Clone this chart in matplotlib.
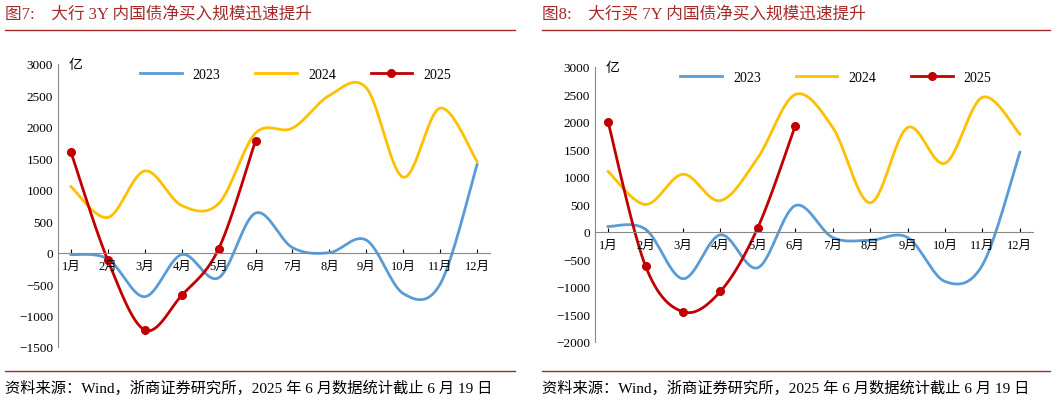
import matplotlib.pyplot as plt
import numpy as np

plt.rcParams["font.family"] = ["Liberation Serif", "Noto Sans CJK SC"]

months = [f"{i}月" for i in range(1, 13)]

# 3Y
y3_2023 = [-30, -100, -700, -30, -400, 630, 80, 0, 200, -650, -500, 1400]
y3_2024 = [1050, 560, 1300, 750, 780, 1900, 1980, 2500, 2620, 1200, 2300, 1450]
y3_2025 = [1600, -120, -1230, -680, 60, 1780]

# 7Y
y7_2023 = [100, 50, -850, -50, -650, 480, -100, -150, -100, -900, -600, 1450]
y7_2024 = [1100, 500, 1050, 570, 1350, 2500, 1900, 530, 1900, 1250, 2450, 1780]
y7_2025 = [2000, -620, -1450, -1080, 80, 1930]

BLUE = "#5B9BD5"
GOLD = "#FFC000"
RED = "#C00000"
TITLE = "#A52A2A"


def smooth(y, n=20):
    """Catmull-Rom curve through the points (display only)"""
    y = np.asarray(y, float)
    x = np.arange(1, len(y) + 1, dtype=float)
    p = np.concatenate([[y[0]], y, [y[-1]]])
    px = np.concatenate([[x[0]], x, [x[-1]]])
    xs, ys = [], []
    for i in range(1, len(y)):
        t = np.linspace(0, 1, n)
        for arr, out in ((px, xs), (p, ys)):
            p0, p1, p2, p3 = arr[i - 1], arr[i], arr[i + 1], arr[i + 2]
            out.extend(0.5 * (2 * p1 + (-p0 + p2) * t
                              + (2 * p0 - 5 * p1 + 4 * p2 - p3) * t ** 2
                              + (-p0 + 3 * p1 - 3 * p2 + p3) * t ** 3))
    return xs, ys


def panel(ax, a, b, c, ylim, step):
    for data, col, lab in ((a, BLUE, "2023"), (b, GOLD, "2024")):
        ax.plot(*smooth(data), color=col, lw=2, label=lab)
    ax.plot(*smooth(c), color=RED, lw=2, label="2025",
            marker="o", markersize=5.5,
            markevery=list(range(0, 20 * (len(c) - 1), 20)) + [20 * (len(c) - 1) - 1])
    ax.set_xlim(0.65, 12.35)
    ax.set_ylim(*ylim)
    ax.set_yticks(np.arange(ylim[0], ylim[1] + 1, step))
    ax.tick_params(axis="y", labelsize=9.5, length=0)
    ax.set_xticks(range(1, 13))
    ax.set_xticklabels([])
    ax.tick_params(axis="x", length=3, direction="in")
    for i, m in enumerate(months):
        ax.text(i + 1, -ylim[1] * 0.04, m, ha="center", va="top", fontsize=9)
    ax.spines["bottom"].set_position(("data", 0))
    ax.spines["top"].set_visible(False)
    ax.spines["right"].set_visible(False)
    ax.spines["left"].set_color("#888888")
    ax.spines["bottom"].set_color("#888888")
    ax.text(0.025, 1.02, "亿", transform=ax.transAxes, fontsize=10, ha="left", va="top")
    ax.legend(loc="upper center", bbox_to_anchor=(0.55, 1.03), ncol=3, frameon=False,
              fontsize=10, handlelength=3, columnspacing=2.5)


fig = plt.figure(figsize=(10.57, 4.02), dpi=100)
W, H = 1057, 402
ax1 = fig.add_axes([58 / W, 1 - 348 / H, (490 - 58) / W, (348 - 65) / H])
ax2 = fig.add_axes([595 / W, 1 - 343 / H, (1033 - 595) / W, (343 - 68) / H])
panel(ax1, y3_2023, y3_2024, y3_2025, (-1500, 3000), 500)
panel(ax2, y7_2023, y7_2024, y7_2025, (-2000, 3000), 500)

for x0, x1, t in ((5, 515, "图7:    大行 3Y 内国债净买入规模迅速提升"),
                  (542, 1050, "图8:    大行买 7Y 内国债净买入规模迅速提升")):
    fig.text(x0 / W, 1 - 15 / H, t, color=TITLE, fontsize=12, va="center")
    fig.add_artist(plt.Line2D([x0 / W, x1 / W], [1 - 31 / H] * 2, color=TITLE, lw=1))
    fig.add_artist(plt.Line2D([x0 / W, x1 / W], [1 - 372 / H] * 2, color=TITLE, lw=1))
    fig.text(x0 / W, 1 - 388 / H, "资料来源：Wind，浙商证券研究所，2025 年 6 月数据统计截止 6 月 19 日",
             fontsize=11, va="center")

fig.savefig("out.png", dpi=100)
